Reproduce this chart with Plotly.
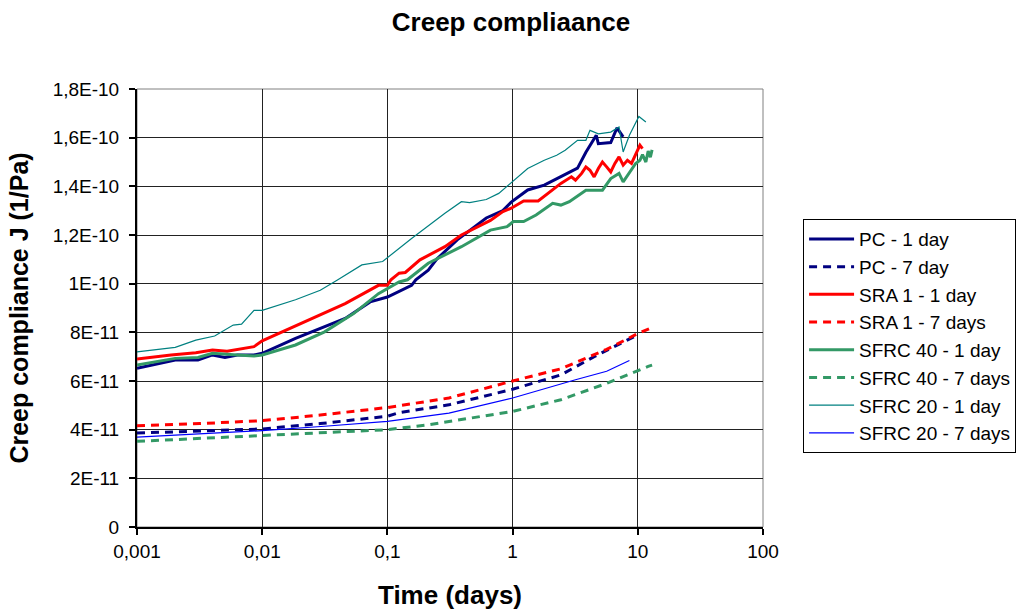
import plotly.graph_objects as go

# ---------------- data (time in days, compliance in 1/Pa) ----------------
pc1_x = [0.001, 0.00202, 0.00307, 0.00401, 0.00504, 0.00634, 0.0086, 0.01, 0.01845, 0.0315,
         0.046, 0.0728, 0.1, 0.156, 0.1686, 0.212, 0.247, 0.361, 0.616, 0.836, 0.975, 1.32,
         1.79, 2.43, 3.30, 3.85, 4.66, 4.84, 6.08, 6.82, 7.64]
pc1_y = [6.52, 6.86, 6.86, 7.07, 6.97, 7.07, 7.07, 7.14, 7.75, 8.23,
         8.57, 9.25, 9.45, 9.93, 10.16, 10.55, 11.0, 11.8, 12.7, 13.0, 13.35, 13.85,
         14.05, 14.4, 14.75, 15.4, 16.1, 15.75, 15.8, 16.4, 16.03]

pc7_x = [0.001, 0.00319, 0.01, 0.0291, 0.1, 0.124, 0.31, 1.0, 2.43, 4.48, 7.64, 10.0]
pc7_y = [3.86, 3.95, 4.03, 4.25, 4.55, 4.70, 5.02, 5.66, 6.25, 7.0, 7.6, 7.9]

sra1_x = [0.001, 0.00187, 0.00295, 0.00401, 0.00524, 0.0086, 0.01, 0.0232, 0.046, 0.0848,
          0.1, 0.1067, 0.124, 0.139, 0.182, 0.288, 0.39, 0.665, 0.836, 0.975, 1.225, 1.60,
          1.79, 2.25, 2.43, 2.95, 3.18, 3.56, 3.85, 4.15, 4.48, 4.84, 5.22, 5.64, 6.08,
          6.56, 7.08, 7.64, 8.26, 8.91, 9.61, 10.4, 10.9]
sra1_y = [6.90, 7.07, 7.16, 7.27, 7.22, 7.41, 7.65, 8.50, 9.18, 9.93,
          9.93, 10.16, 10.43, 10.46, 10.98, 11.52, 12.0, 12.6, 12.96, 13.1, 13.4, 13.4,
          13.6, 13.98, 14.12, 14.39, 14.25, 14.53, 14.8, 14.66, 14.39, 14.73, 15.0, 14.8, 14.59,
          14.94, 15.21, 14.87, 15.07, 14.94, 15.28, 15.69, 15.55]

sra7_x = [0.001, 0.00319, 0.01, 0.0291, 0.1, 0.31, 1.0, 2.43, 5.64, 10.0, 13.0]
sra7_y = [4.16, 4.25, 4.37, 4.60, 4.91, 5.30, 6.0, 6.5, 7.3, 7.95, 8.2]

sfrc40_1_x = [0.001, 0.00202, 0.00307, 0.00401, 0.00634, 0.0086, 0.01, 0.01845, 0.0315, 0.0537,
              0.0848, 0.124, 0.1446, 0.212, 0.39, 0.665, 0.903, 1.012, 1.225, 1.54, 2.09,
              2.43, 2.84, 3.85, 5.22, 6.08, 7.08, 7.64, 9.61, 10.4, 10.9, 11.6, 12.1, 12.6, 13.0]
sfrc40_1_y = [6.66, 6.93, 6.97, 7.14, 7.07, 7.03, 7.07, 7.48, 8.02, 8.77,
              9.59, 10.07, 10.16, 10.84, 11.52, 12.2, 12.34, 12.55, 12.55, 12.82, 13.3,
              13.23, 13.37, 13.84, 13.84, 14.32, 14.53, 14.18, 14.94, 15.07, 15.3, 15.0, 15.45, 15.2, 15.5]

sfrc40_7_x = [0.001, 0.01, 0.0315, 0.1, 0.212, 1.0, 2.43, 5.64, 12.1, 13.0]
sfrc40_7_y = [3.52, 3.77, 3.87, 4.0, 4.2, 4.75, 5.23, 5.9, 6.6, 6.65]

sfrc20_1_x = [0.001, 0.00202, 0.00295, 0.00417, 0.00587, 0.00684, 0.0086, 0.01, 0.01845, 0.0291,
              0.0396, 0.0625, 0.0916, 0.156, 0.288, 0.39, 0.454, 0.616, 0.775, 1.0, 1.32,
              1.79, 2.25, 2.63, 3.06, 3.30, 3.85, 4.15, 4.84, 6.08, 7.08, 7.64, 8.57, 9.25,
              10.2, 11.6]
sfrc20_1_y = [7.2, 7.38, 7.68, 7.85, 8.3, 8.34, 8.9, 8.9, 9.34, 9.73,
              10.14, 10.77, 10.91, 11.86, 12.89, 13.37, 13.33, 13.46, 13.71, 14.19, 14.73,
              15.07, 15.28, 15.48, 15.75, 15.89, 15.89, 16.3, 16.16, 16.23, 16.44, 15.41, 16.1, 16.44,
              16.87, 16.64]

sfrc20_7_x = [0.001, 0.01, 0.0315, 0.1, 0.31, 1.0, 3.18, 5.64, 8.57]
sfrc20_7_y = [3.69, 3.96, 4.14, 4.34, 4.68, 5.3, 6.05, 6.4, 6.84]

x_tickvals = [0.001, 0.01, 0.1, 1, 10, 100]
x_ticktext = ["0,001", "0,01", "0,1", "1", "10", "100"]
y_tickvals = [0, 2e-11, 4e-11, 6e-11, 8e-11, 1e-10, 1.2e-10, 1.4e-10, 1.6e-10, 1.8e-10]
y_ticktext = ["0", "2E-11", "4E-11", "6E-11", "8E-11", "1E-10", "1,2E-10", "1,4E-10", "1,6E-10", "1,8E-10"]

series = [
    ("PC - 1 day", pc1_x, pc1_y, "#000080", 3, "solid"),
    ("PC - 7 day", pc7_x, pc7_y, "#000080", 3, "8px,6px"),
    ("SRA 1 - 1 day", sra1_x, sra1_y, "#FF0000", 3, "solid"),
    ("SRA 1 - 7 days", sra7_x, sra7_y, "#FF0000", 3, "8px,6px"),
    ("SFRC 40 - 1 day", sfrc40_1_x, sfrc40_1_y, "#339966", 3, "solid"),
    ("SFRC 40 - 7 days", sfrc40_7_x, sfrc40_7_y, "#339966", 3, "8px,6px"),
    ("SFRC 20 - 1 day", sfrc20_1_x, sfrc20_1_y, "#008080", 1.2, "solid"),
    ("SFRC 20 - 7 days", sfrc20_7_x, sfrc20_7_y, "#0000FF", 1.2, "solid"),
]

FONT = "Liberation Sans, Arial, sans-serif"

fig = go.Figure()
for name, xs, ys, color, width, dash in series:
    fig.add_trace(go.Scatter(
        x=xs, y=[v * 1e-11 for v in ys], mode="lines", name=name,
        line=dict(color=color, width=width, dash=dash),
    ))

fig.update_layout(
    width=1022, height=610,
    margin=dict(l=137, r=259, t=89, b=83, autoexpand=False),
    paper_bgcolor="white", plot_bgcolor="white",
    font=dict(family=FONT, color="black"),
    title=dict(text="<b>Creep compliaance</b>", x=0.5, xref="container", xanchor="center",
               y=1 - 22 / 610, yref="container", yanchor="middle",
               font=dict(size=26, family=FONT, color="black")),
    showlegend=True,
    legend=dict(x=1.064, y=0.703, xanchor="left", yanchor="top",
                bordercolor="black", borderwidth=1, bgcolor="white",
                font=dict(size=19, family=FONT, color="black"),
                itemwidth=45, tracegroupgap=0),
    xaxis=dict(type="log", range=[-3, 2], tickvals=x_tickvals, ticktext=x_ticktext,
               showgrid=True, gridcolor="#222222", gridwidth=1,
               showline=True, linecolor="black", linewidth=2,
               ticks="outside", ticklen=6, tickwidth=2, tickcolor="black",
               tickfont=dict(size=19, family=FONT, color="black"),
               title=dict(text="<b>Time (days)</b>", font=dict(size=26, family=FONT, color="black"),
                          standoff=26),
               zeroline=False),
    yaxis=dict(range=[0, 1.8e-10], tickvals=y_tickvals, ticktext=y_ticktext,
               showgrid=True, gridcolor="#222222", gridwidth=1,
               showline=True, linecolor="black", linewidth=2,
               ticks="outside", ticklen=6, tickwidth=2, tickcolor="black",
               ticklabelstandoff=6,
               tickfont=dict(size=19, family=FONT, color="black"),
               title=dict(text="<b>Creep compliance J (1/Pa)</b>",
                          font=dict(size=25, family=FONT, color="black"), standoff=17),
               zeroline=False),
    shapes=[dict(type="rect", xref="paper", yref="paper", x0=0, x1=1, y0=0, y1=1,
                 line=dict(color="#808080", width=1), layer="below")],
)

fig.write_html("out.html")
